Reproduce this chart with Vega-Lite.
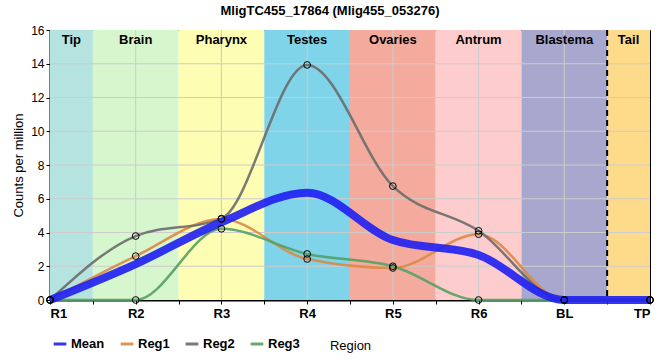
{
  "$schema": "https://vega.github.io/schema/vega-lite/v6.json",
  "autosize": {"type": "none"},
  "width": 600,
  "height": 270,
  "padding": {"left": 50, "top": 30, "right": 10, "bottom": 60},
  "background": "white",
  "title": {"text": "MligTC455_17864 (Mlig455_053276)", "font": "Liberation Sans", "fontSize": 13, "fontWeight": "bold", "color": "black", "offset": 6, "dx": -20, "anchor": "middle"},
  "config": {
    "view": {"stroke": "black", "strokeWidth": 1},
    "axis": {"grid": false, "domainColor": "black", "domainWidth": 2, "tickColor": "black", "labelColor": "black", "titleColor": "black"},
    "axisX": {"values": [0, 1, 2, 3, 4, 5, 6, 7], "labelExpr": "['R1','R2','R3','R4','R5','R6','BL','TP'][datum.value]", "labelFont": "Liberation Sans", "labelFontWeight": "bold", "labelFontSize": 13, "tickSize": 4, "labelPadding": 3, "titleFont": "Liberation Sans", "titleFontWeight": "normal", "titleFontSize": 13, "titlePadding": 19},
    "axisY": {"values": [0, 2, 4, 6, 8, 10, 12, 14, 16], "labelFont": "Liberation Sans", "labelFontSize": 12, "tickSize": 4, "labelPadding": 2, "titleFont": "Liberation Sans", "titleFontWeight": "normal", "titleFontSize": 13, "titlePadding": 5}
  },
  "layer": [
    {
      "data": {"values": [
        {"region": "Tip", "x": 0, "x2": 0.5},
        {"region": "Brain", "x": 0.5, "x2": 1.5},
        {"region": "Pharynx", "x": 1.5, "x2": 2.5},
        {"region": "Testes", "x": 2.5, "x2": 3.5},
        {"region": "Ovaries", "x": 3.5, "x2": 4.5},
        {"region": "Antrum", "x": 4.5, "x2": 5.5},
        {"region": "Blastema", "x": 5.5, "x2": 6.5},
        {"region": "Tail", "x": 6.5, "x2": 7}
      ]},
      "mark": {"type": "rect"},
      "encoding": {
        "x": {"field": "x", "type": "quantitative", "scale": {"domain": [0, 7], "nice": false, "zero": false}, "title": "Region"},
        "x2": {"field": "x2"},
        "fill": {"field": "region", "type": "nominal", "legend": null,
          "scale": {"domain": ["Tip", "Brain", "Pharynx", "Testes", "Ovaries", "Antrum", "Blastema", "Tail"],
                    "range": ["#b5e3e0", "#d6f6ce", "#fdfdb4", "#7fd4ea", "#f4ab9e", "#fdcccc", "#a8a8cf", "#fddb8a"]}}
      }
    },
    {
      "data": {"values": [{"x": 1}, {"x": 2}, {"x": 3}, {"x": 4}, {"x": 5}, {"x": 6}]},
      "mark": {"type": "rule", "color": "#cccccc", "strokeWidth": 1},
      "encoding": {"x": {"field": "x", "type": "quantitative", "title": "Region"}}
    },
    {
      "data": {"values": [{"y": 2}, {"y": 4}, {"y": 6}, {"y": 8}, {"y": 10}, {"y": 12}, {"y": 14}]},
      "mark": {"type": "rule", "color": "#cccccc", "strokeWidth": 1},
      "encoding": {"y": {"field": "y", "type": "quantitative", "scale": {"domain": [0, 16], "nice": false}, "title": "Counts per million"}}
    },
    {
      "data": {"values": [{"x": 6.5}]},
      "mark": {"type": "rule", "color": "black", "strokeWidth": 2, "strokeDash": [6, 4]},
      "encoding": {"x": {"field": "x", "type": "quantitative", "title": "Region"}}
    },
    {
      "data": {"values": [
        {"region": "Tip", "x": 0.25},
        {"region": "Brain", "x": 1},
        {"region": "Pharynx", "x": 2},
        {"region": "Testes", "x": 3},
        {"region": "Ovaries", "x": 4},
        {"region": "Antrum", "x": 5},
        {"region": "Blastema", "x": 6},
        {"region": "Tail", "x": 6.75}
      ]},
      "mark": {"type": "text", "font": "Liberation Sans", "fontWeight": "bold", "fontSize": 13, "baseline": "top", "dy": 4, "color": "black"},
      "encoding": {
        "x": {"field": "x", "type": "quantitative", "title": "Region"},
        "y": {"datum": 16, "type": "quantitative", "title": "Counts per million"},
        "text": {"field": "region"}
      }
    },
    {
      "data": {"name": "regs", "values": [
        {"x": 0, "s": "Reg1", "v": 0}, {"x": 1, "s": "Reg1", "v": 2.6}, {"x": 2, "s": "Reg1", "v": 4.8}, {"x": 3, "s": "Reg1", "v": 2.43},
        {"x": 4, "s": "Reg1", "v": 1.9}, {"x": 5, "s": "Reg1", "v": 3.9}, {"x": 6, "s": "Reg1", "v": 0}, {"x": 7, "s": "Reg1", "v": 0},
        {"x": 0, "s": "Reg2", "v": 0}, {"x": 1, "s": "Reg2", "v": 3.79}, {"x": 2, "s": "Reg2", "v": 4.82}, {"x": 3, "s": "Reg2", "v": 13.93},
        {"x": 4, "s": "Reg2", "v": 6.75}, {"x": 5, "s": "Reg2", "v": 4.1}, {"x": 6, "s": "Reg2", "v": 0}, {"x": 7, "s": "Reg2", "v": 0},
        {"x": 0, "s": "Reg3", "v": 0}, {"x": 1, "s": "Reg3", "v": 0}, {"x": 2, "s": "Reg3", "v": 4.22}, {"x": 3, "s": "Reg3", "v": 2.73},
        {"x": 4, "s": "Reg3", "v": 2.0}, {"x": 5, "s": "Reg3", "v": 0}, {"x": 6, "s": "Reg3", "v": 0}, {"x": 7, "s": "Reg3", "v": 0}
      ]},
      "mark": {"type": "line", "interpolate": "monotone", "strokeWidth": 2.5, "opacity": 0.9},
      "encoding": {
        "x": {"field": "x", "type": "quantitative", "title": "Region"},
        "y": {"field": "v", "type": "quantitative", "title": "Counts per million"},
        "stroke": {"field": "s", "type": "nominal",
          "scale": {"domain": ["Mean", "Reg1", "Reg2", "Reg3"], "range": ["#1f1ff2", "#dd8844", "#6b6b6b", "#55a064"]},
          "legend": {"orient": "none", "legendX": 2, "legendY": 306, "direction": "horizontal", "title": null,
            "symbolType": "stroke", "symbolSize": 160, "symbolStrokeWidth": 3,
            "labelFont": "Liberation Sans", "labelFontWeight": "bold", "labelFontSize": 13, "labelOffset": 3, "columnPadding": 9,
            "encode": {
              "labels": {"update": {"fill": {"signal": "scale('stroke', datum.value)"}, "opacity": {"value": 0.8}}},
              "symbols": {"update": {"strokeWidth": {"signal": "datum.value === 'Mean' ? 8 : 3"}}}
            }}}
      }
    },
    {
      "data": {"values": [
        {"x": 0, "s": "Mean", "v": 0}, {"x": 1, "s": "Mean", "v": 2.13}, {"x": 2, "s": "Mean", "v": 4.61}, {"x": 3, "s": "Mean", "v": 6.36},
        {"x": 4, "s": "Mean", "v": 3.55}, {"x": 5, "s": "Mean", "v": 2.67}, {"x": 6, "s": "Mean", "v": 0}, {"x": 7, "s": "Mean", "v": 0}
      ]},
      "mark": {"type": "line", "interpolate": "monotone", "strokeWidth": 8, "opacity": 0.9},
      "encoding": {
        "x": {"field": "x", "type": "quantitative", "title": "Region"},
        "y": {"field": "v", "type": "quantitative", "title": "Counts per million"},
        "stroke": {"field": "s", "type": "nominal"}
      }
    },
    {
      "data": {"name": "regs"},
      "mark": {"type": "point", "filled": false, "color": "black", "strokeWidth": 1, "size": 45, "opacity": 1},
      "encoding": {
        "x": {"field": "x", "type": "quantitative", "title": "Region"},
        "y": {"field": "v", "type": "quantitative", "title": "Counts per million"}
      }
    }
  ]
}
